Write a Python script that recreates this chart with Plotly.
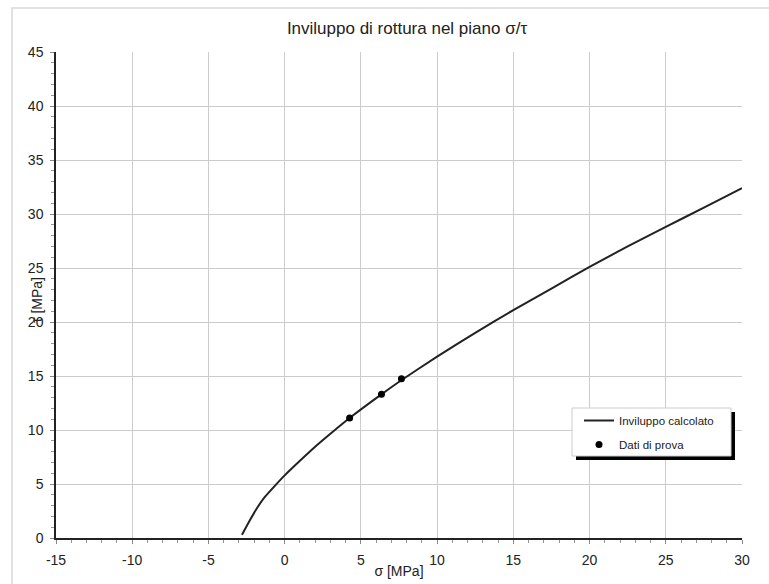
import plotly.graph_objects as go

# Computed envelope
sigma_env = [-2.8, -2.3, -1.8, -1.3, -0.6, 0, 1, 2, 3, 4.3, 6.3, 7.7, 10, 12.5, 15, 17.5, 20, 22.5, 25, 27.5, 30]
tau_env = [0.3, 1.6, 2.8, 3.8, 4.9, 5.8, 7.15, 8.45, 9.65, 11.15, 13.25, 14.65, 16.8, 19.0, 21.1, 23.1, 25.1, 27.0, 28.8, 30.6, 32.4]

# Test data
sigma_test = [4.26, 6.35, 7.66]
tau_test = [11.1, 13.3, 14.75]

x_ticks = [-15, -10, -5, 0, 5, 10, 15, 20, 25, 30]
y_ticks = [0, 5, 10, 15, 20, 25, 30, 35, 40, 45]

W, H = 769, 584
L, R, T, B = 56, 27, 52, 46
PW, PH = W - L - R, H - T - B


def px(x):
    return (x - L) / PW


def py(y):
    return (H - B - y) / PH


FONT = "Liberation Sans, Arial, sans-serif"

fig = go.Figure()
fig.add_trace(go.Scatter(x=sigma_env, y=tau_env, mode="lines", name="Inviluppo calcolato",
                         line=dict(color="#222222", width=2, shape="spline", smoothing=0.5),
                         legendgroup="a"))
fig.add_trace(go.Scatter(x=sigma_test, y=tau_test, mode="markers", name="Dati di prova",
                         marker=dict(color="black", size=7), legendgroup="b"))

shapes = [
    # outer frame
    dict(type="rect", xref="paper", yref="paper", x0=px(12), x1=px(800), y0=py(8), y1=py(620),
         line=dict(color="#d8d8d8", width=1.5), fillcolor="rgba(0,0,0,0)", layer="below"),
    # legend shadow
    dict(type="rect", xref="paper", yref="paper", x0=px(576), x1=px(735), y0=py(412), y1=py(460),
         line=dict(width=0), fillcolor="black", layer="above"),
    # legend box
    dict(type="rect", xref="paper", yref="paper", x0=px(572), x1=px(731), y0=py(408), y1=py(456),
         line=dict(color="#cccccc", width=1), fillcolor="white", layer="above"),
]

fig.update_layout(
    width=W, height=H,
    margin=dict(l=L, r=R, t=T, b=B),
    paper_bgcolor="white", plot_bgcolor="white",
    font=dict(family=FONT, color="#222222", size=14),
    title=dict(text="Inviluppo di rottura nel piano σ/τ", x=407 / W, xanchor="center",
               y=1 - 28 / H, yanchor="middle", font=dict(size=17, color="#222222")),
    shapes=shapes,
    showlegend=True,
    legend=dict(x=px(579), y=py(406), xanchor="left", yanchor="top",
                bgcolor="rgba(0,0,0,0)", borderwidth=0, font=dict(size=11.5, color="#222222"),
                tracegroupgap=5, traceorder="grouped"),
    annotations=[dict(text="τ [MPa]", xref="paper", yref="paper", x=px(37), y=py(300),
                      xanchor="center", yanchor="middle",
                      textangle=-90, showarrow=False, font=dict(size=14, color="#222222"))],
)

fig.update_xaxes(range=[-15, 30], tickmode="array", tickvals=x_ticks,
                 ticktext=[str(v) for v in x_ticks], tickfont=dict(size=14),
                 ticklabelstandoff=4, automargin=False,
                 showgrid=True, gridcolor="#cccccc", gridwidth=1,
                 showline=True, linecolor="#222222", linewidth=1.5,
                 ticks="outside", ticklen=4, tickcolor="#888888",
                 minor=dict(dtick=1, ticks="outside", ticklen=3, tickcolor="#999999", showgrid=False),
                 zeroline=False,
                 title=dict(text="σ [MPa]", standoff=0, font=dict(size=14)))
fig.update_yaxes(range=[0, 45], tickmode="array", tickvals=y_ticks,
                 ticktext=[str(v) for v in y_ticks], tickfont=dict(size=14),
                 ticklabelstandoff=4, automargin=False,
                 showgrid=True, gridcolor="#cccccc", gridwidth=1,
                 showline=True, linecolor="#222222", linewidth=1.5,
                 ticks="outside", ticklen=4, tickcolor="#888888",
                 minor=dict(dtick=1, ticks="outside", ticklen=3, tickcolor="#999999", showgrid=False),
                 zeroline=False)

fig.write_html("out.html")
